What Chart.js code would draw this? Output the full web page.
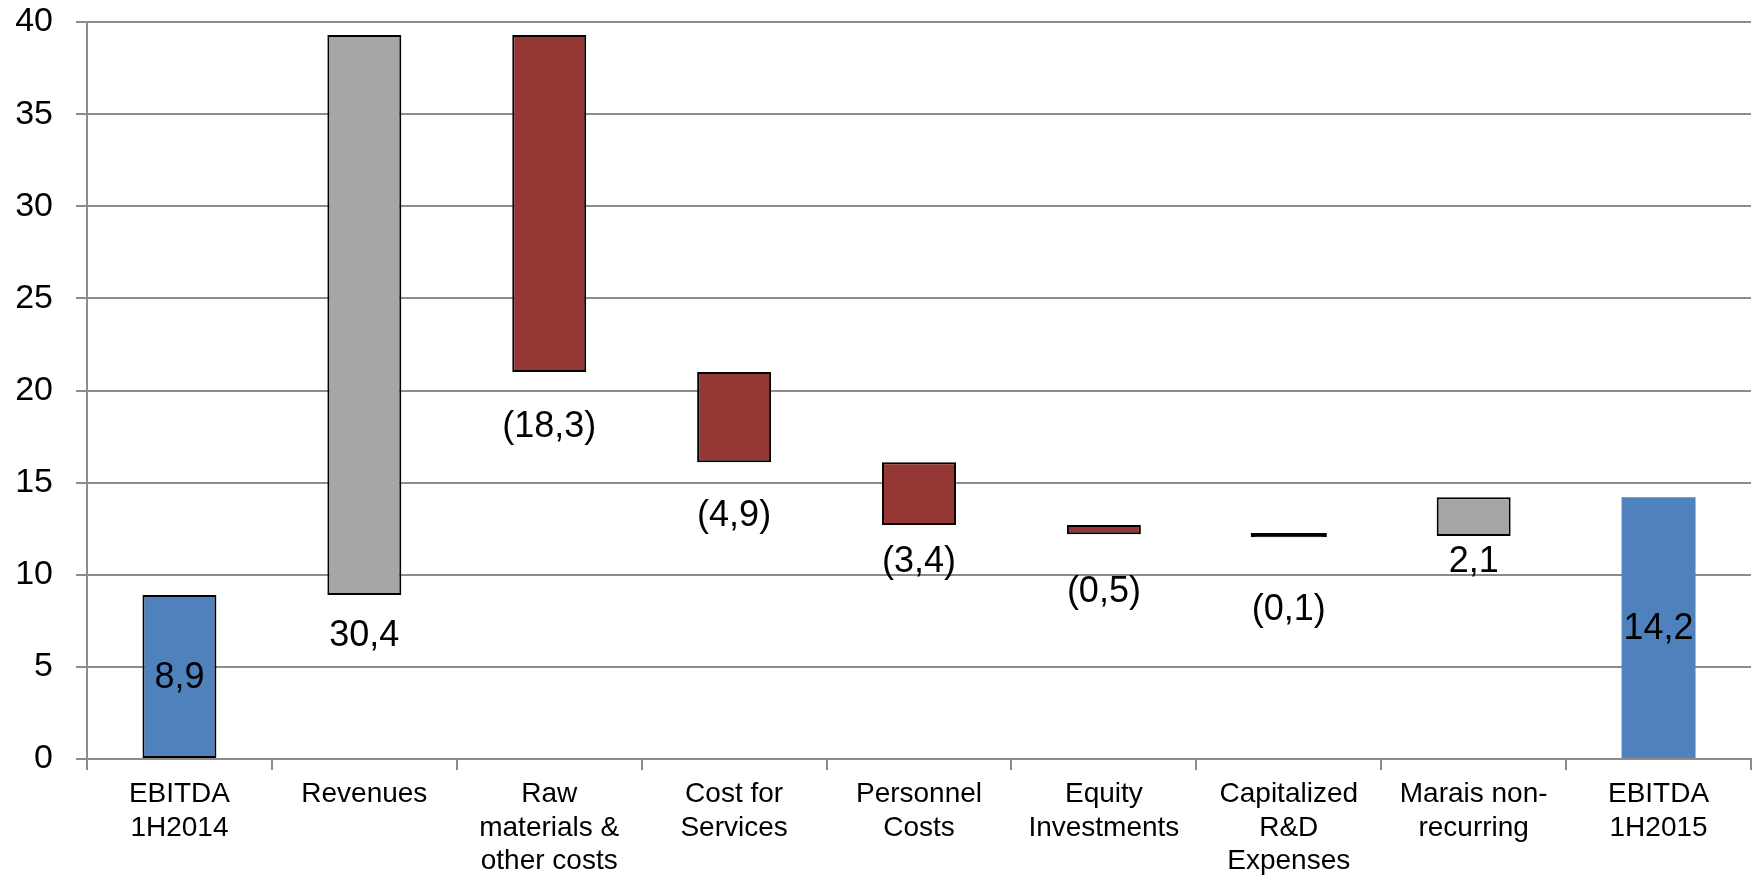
<!DOCTYPE html>
<html>
<head>
<meta charset="utf-8">
<script src="https://cdn.jsdelivr.net/npm/chart.js@4.4.1/dist/chart.umd.min.js"></script>
<style>
html,body{margin:0;padding:0;background:#fff;}
#wrap{width:1758px;height:877px;position:relative;}
</style>
</head>
<body>
<div id="wrap"><canvas id="c"></canvas></div>
<script>
// ---- data ----
const categories = [
  ['EBITDA','1H2014'],
  ['Revenues'],
  ['Raw','materials &','other costs'],
  ['Cost for','Services'],
  ['Personnel','Costs'],
  ['Equity','Investments'],
  ['Capitalized','R&D','Expenses'],
  ['Marais non-','recurring'],
  ['EBITDA','1H2015']
];
const deltas = [8.9, 30.4, -18.3, -4.9, -3.4, -0.5, -0.1, 2.1, 14.2];
const kinds  = ['total','up','down','down','down','down','down','up','total'];
const yTicks = [0, 5, 10, 15, 20, 25, 30, 35, 40];

// ---- build floating ranges ----
const ranges = [];
let run = 0;
deltas.forEach((d, i) => {
  if (kinds[i] === 'total') {
    ranges.push([0, d]);
    run = d;
  } else {
    const start = run;
    const end = Math.round((run + d) * 10) / 10;
    ranges.push([start, end]);
    run = end;
  }
});

const colorOf = {total:'#4F81BD', up:'#A6A6A6', down:'#953735'};
// very thin bars show only their outline, so they read as a black line
const isSliver = deltas.map((d, i) => kinds[i] !== 'total' && Math.abs(d) < 0.2);
const fillColors = kinds.map((k, i) => isSliver[i] ? '#000' : colorOf[k]);
const borderWidths = kinds.map((k, i) => i === kinds.length - 1 ? 0 : 2);
const inflates = isSliver.map(s => s ? 1.1 : 'auto');

function fmt(v) {
  const s = Math.abs(v).toFixed(1).replace('.', ',');
  return v < 0 ? '(' + s + ')' : s;
}

// label offsets below bar bottom (px); null = centered inside bar
const labelOffsets = [null, 40, 54, 53, 36, 57, 73, 25, null];

const labelPlugin = {
  id: 'wfLabels',
  afterDatasetsDraw(chart) {
    const ctx = chart.ctx;
    const meta = chart.getDatasetMeta(0);
    const y = chart.scales.y;
    ctx.save();
    ctx.font = '36px "Liberation Sans", Arial, sans-serif';
    ctx.fillStyle = '#000';
    ctx.textAlign = 'center';
    ctx.textBaseline = 'middle';
    meta.data.forEach((bar, i) => {
      const r = ranges[i];
      const lo = Math.min(r[0], r[1]);
      const hi = Math.max(r[0], r[1]);
      let py;
      if (labelOffsets[i] === null) {
        py = y.getPixelForValue((lo + hi) / 2);
      } else {
        py = y.getPixelForValue(lo) + labelOffsets[i];
      }
      ctx.fillText(fmt(deltas[i]), bar.x, py + 1);
    });
    ctx.restore();
  }
};

new Chart(document.getElementById('c'), {
  type: 'bar',
  data: {
    labels: categories,
    datasets: [{
      data: ranges,
      backgroundColor: fillColors,
      borderColor: '#000',
      borderWidth: borderWidths,
      borderSkipped: false,
      inflateAmount: inflates,
      categoryPercentage: 1.0,
      barPercentage: 0.4
    }]
  },
  options: {
    responsive: true,
    maintainAspectRatio: false,
    animation: false,
    devicePixelRatio: 1,
    layout: { padding: { left: 0, right: 7, top: 22, bottom: 0 } },
    plugins: { legend: { display: false }, tooltip: { enabled: false } },
    scales: {
      x: {
        offset: true,
        afterFit(scale) { scale.height = 118; scale.paddingLeft = 0; scale.paddingRight = 0; },
        grid: {
          display: true,
          drawOnChartArea: false,
          drawTicks: true,
          tickLength: 11,
          color: '#8c8c8c',
          lineWidth: 2,
          offset: true
        },
        border: { display: true, color: '#8c8c8c', width: 2 },
        ticks: {
          color: '#000',
          padding: 7,
          maxRotation: 0,
          autoSkip: false,
          font: { family: '"Liberation Sans", Arial, sans-serif', size: 28, lineHeight: 1.21 }
        }
      },
      y: {
        min: 0,
        max: 40,
        afterBuildTicks(scale) { scale.ticks = yTicks.map(v => ({value: v})); },
        afterFit(scale) { scale.width = 87; scale.paddingTop = 0; scale.paddingBottom = 0; },
        grid: {
          color: '#8c8c8c',
          lineWidth: 2,
          drawTicks: true,
          tickLength: 11
        },
        border: { display: true, color: '#8c8c8c', width: 2 },
        ticks: {
          color: '#000',
          padding: 23,
          font: { family: '"Liberation Sans", Arial, sans-serif', size: 34 }
        }
      }
    }
  },
  plugins: [labelPlugin]
});
</script>
</body>
</html>
